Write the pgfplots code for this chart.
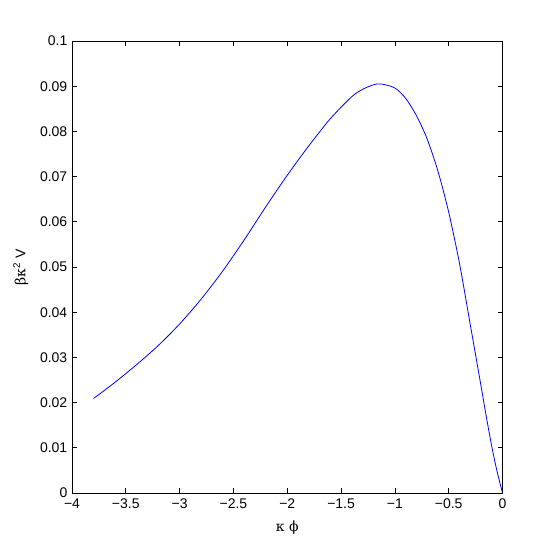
\documentclass[border=0pt]{standalone}
\usepackage{pgfplots}
\pgfplotsset{compat=1.18}
\usepackage{fontspec}
\setmainfont{Liberation Sans}
\newfontfamily\grk{DejaVu Serif}
\begin{document}
\begin{tikzpicture}
\path[use as bounding box] (-54pt,-45.75pt) rectangle (361.5pt,369.75pt);
\begin{axis}[
  at={(0,0)}, anchor=south west,
  scale only axis, width=322.9pt, height=339pt,
  xmin=-4, xmax=0, ymin=0, ymax=0.1,
  xtick={-4,-3.5,-3,-2.5,-2,-1.5,-1,-0.5,0},
  xticklabels={−4,−3.5,−3,−2.5,−2,−1.5,−1,−0.5,0},
  ytick={0,0.01,0.02,0.03,0.04,0.05,0.06,0.07,0.08,0.09,0.1},
  yticklabels={0,0.01,0.02,0.03,0.04,0.05,0.06,0.07,0.08,0.09,0.1},
  scaled y ticks=false,
  tick align=inside, tick pos=both,
  major tick length=3.5pt,
  axis line style={black, line width=0.5pt},
  every tick/.style={black, line width=0.5pt},
  tick label style={font=\fontsize{10.5}{12}\selectfont},
  xticklabel style={yshift=-1pt},
  xlabel={{\grk κ ϕ}},
  ylabel={{\grk βκ}\textsuperscript{2} V},
  label style={font=\fontsize{10.5}{12}\selectfont},
  xlabel style={yshift=-2pt},
  ylabel style={yshift=2pt},
]
\addplot[color=blue, line width=0.6pt, smooth] coordinates {
(-3.8,0.0209)
(-3.6,0.0245)
(-3.4,0.0284)
(-3.2,0.0326)
(-3.0,0.0374)
(-2.8,0.0429)
(-2.6,0.0491)
(-2.4,0.0560)
(-2.2,0.0633)
(-2.0,0.0703)
(-1.8,0.0768)
(-1.6,0.0828)
(-1.4,0.0877)
(-1.3,0.0893)
(-1.2,0.0903)
(-1.13,0.0905)
(-1.0,0.0896)
(-0.9,0.0873)
(-0.8,0.0835)
(-0.7,0.0783)
(-0.6,0.0712)
(-0.5,0.0621)
(-0.4,0.0508)
(-0.3,0.0373)
(-0.2,0.0237)
(-0.15,0.0168)
(-0.1,0.0103)
(-0.05,0.0047)
(0,0)
};
\end{axis}
\end{tikzpicture}
\end{document}
